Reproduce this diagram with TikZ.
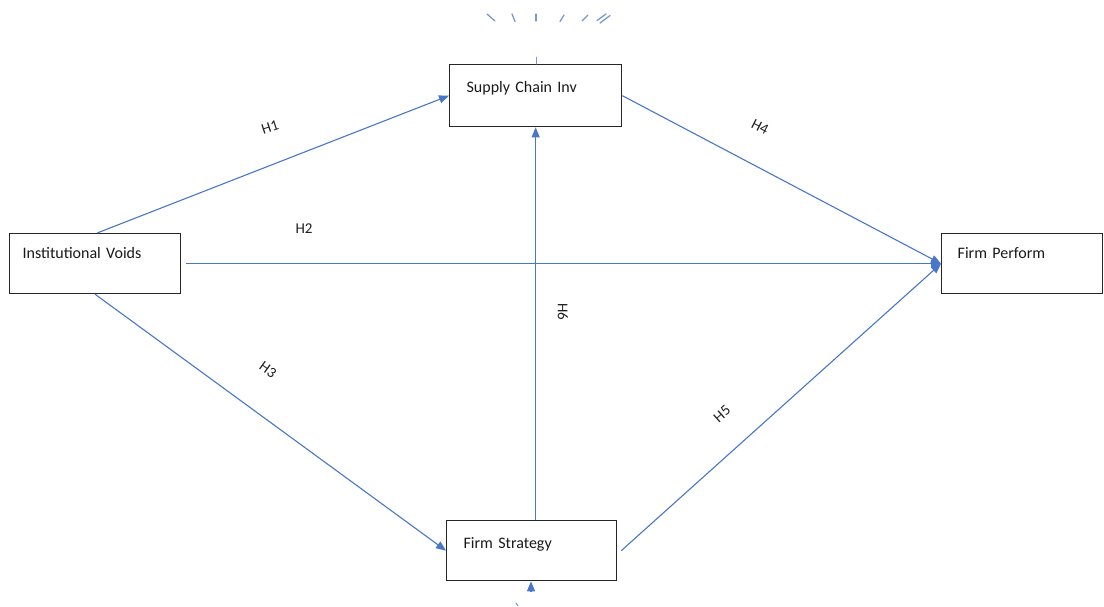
\documentclass[tikz,border=0pt]{standalone}
\usepackage{fontspec}
\setmainfont{Carlito}
\usetikzlibrary{arrows.meta,calc}
\definecolor{linkblue}{RGB}{72,118,200}
\definecolor{labelgray}{RGB}{30,30,30}
\begin{document}
\begin{tikzpicture}[x=1pt,y=-1pt,
  box/.style={draw=black!85, line width=1.3pt, rectangle, anchor=north west,
    inner ysep=0pt, align=left, font=\fontsize{16}{18}\selectfont, text=black!90},
  link/.style={draw=linkblue, line width=1.1pt, -{Triangle[length=10pt,width=8pt]}},
  hyp/.style={font=\fontsize{15}{17}\selectfont, text=labelgray, inner sep=0pt},
  ray/.style={draw=linkblue!75, line width=1.3pt, line cap=round}]
\useasboundingbox (0,0) rectangle (1104,606);

% construct boxes
\node[box, inner xsep=17pt, text width=138pt, text height=28pt, text depth=34pt] (sci) at (449,64) {Supply Chain Inv};
\node[box, inner xsep=13pt, text width=145pt, text height=25pt, text depth=35pt] (iv) at (9,233) {Institutional Voids};
\node[box, inner xsep=16pt, text width=129pt, text height=25pt, text depth=35pt] (fp) at (941,233) {Firm Perform};
\node[box, inner xsep=17pt, text width=136pt, text height=28pt, text depth=32pt] (fs) at (446,520) {Firm Strategy};

% hypothesised paths
\draw[link] ([xshift=2pt]iv.north) -- (sci.west);
\draw[link] ([xshift=5pt]iv.east) -- (fp.west);
\draw[link] (iv.south) -- (fs.west);
\draw[link] (sci.east) -- (fp.west);
\draw[link] ([xshift=4pt]fs.east) -- (fp.west);
\draw[link] (sci.south |- fs.north) -- (sci.south);

% stray stubs around the middle column
\coordinate (topstub) at (536,57);
\coordinate (botstub) at (531,592);
\draw[link] (botstub) -- (fs.south -| botstub);
\draw[ray, line width=1pt] (topstub) -- (sci.north -| topstub);
\draw[ray, line width=1pt] (516,603) -- (518,606);

% hypothesis labels
\node[hyp, rotate=18] (h1) at (270,127) {H1};
\node[hyp] (h2) at (304,229) {H2};
\node[hyp, rotate=-36] (h3) at (268,370) {H3};
\node[hyp, rotate=-27] (h4) at (760,127) {H4};
\node[hyp, rotate=42] (h5) at (722,414) {H5};
\node[hyp, rotate=-90] (h6) at (563,312) {H6};

% short rays above the top box
\draw[ray] (487,14) -- (495,21);
\draw[ray] (512,14) -- (515,21.5);
\draw[ray] (536,14) -- (536,21);
\draw[ray] (564,15) -- (560,21.5);
\draw[ray] (588,15) -- (582,21);
\draw[ray] (606,14) -- (597,20.5);
\draw[ray] (610,15.5) -- (600,23);
\end{tikzpicture}
\end{document}
